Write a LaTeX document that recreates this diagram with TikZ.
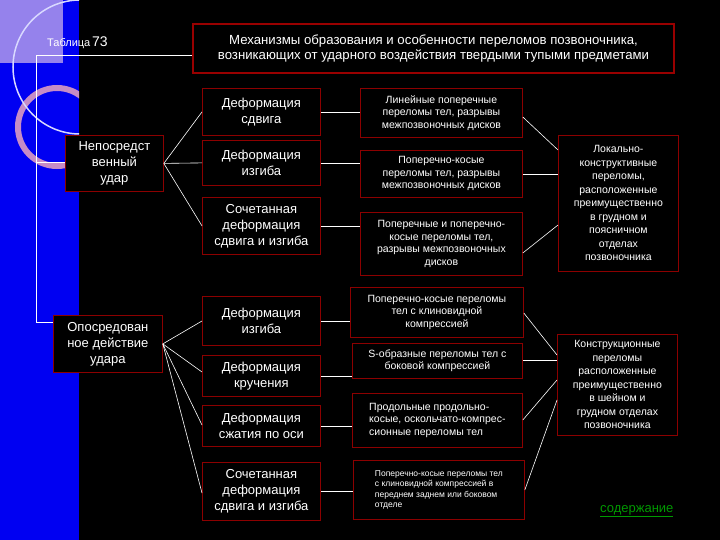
\documentclass[tikz,border=0pt]{standalone}
\usepackage{fontspec}
\setmainfont{Liberation Sans}
\begin{document}
\begin{tikzpicture}[x=1pt,y=-1pt,
  bx/.style={draw=red!55!black,line width=0.8pt,fill=black,text=white,align=center,inner sep=1pt,anchor=north west},
  ln/.style={draw=white,line width=0.6pt}]
\useasboundingbox (0,0) rectangle (720,540);
\fill[black] (0,0) rectangle (720,540);
\fill[blue!95!black] (0,0) rectangle (79,540);
\fill[blue!40!white!85!violet] (0,0) rectangle (63,63);
\begin{scope}
\clip (0,0) rectangle (79,540);
\draw[violet!45!white, line width=6pt] (57,127) circle (39);
\draw[white!85!blue, line width=1.5pt] (80,67) circle (67);
\end{scope}
% title
\node[bx,minimum width=481,minimum height=49,font=\fontsize{13.2}{15.5}\selectfont,line width=2pt,draw=red!60!black] (t) at (192,23) {Механизмы образования  и особенности переломов позвоночника,\\возникающих от ударного воздействия твердыми тупыми предметами};
\node[text=white,font=\fontsize{11}{13}\selectfont,anchor=west,inner sep=0] (tab) at (47,43) {Таблица\,{\fontsize{14}{14}\selectfont 73}};
% left
\tikzset{m/.style={bx,minimum width=118,font=\fontsize{13}{16}\selectfont}}
\node[bx,minimum width=98,minimum height=56,font=\fontsize{13}{16}\selectfont] (a) at (65,135) {Непосредст\\венный\\удар};
\node[bx,minimum width=109,minimum height=57,font=\fontsize{13}{16}\selectfont] (b) at (53,315) {Опосредован\\ное действие\\удара};
\coordinate (c1) at (36,55); \coordinate (c2) at (36,162); \coordinate (c3) at (36,322);
\draw[ln] (t.west |- c1) -- (c1) -- (c3) -- (b.west |- c3);
\draw[ln] (c2) -- (a.west |- c2);
% middle
\node[m,minimum height=47] (m1) at (202,88) {Деформация\\сдвига};
\node[m,minimum height=45] (m2) at (202,140) {Деформация\\изгиба};
\node[m,minimum height=57] (m3) at (202,197) {Сочетанная\\деформация\\сдвига и изгиба};
\node[m,minimum height=49] (m4) at (202,296) {Деформация\\изгиба};
\node[m,minimum height=41] (m5) at (202,355) {Деформация\\кручения};
\node[m,minimum height=41] (m6) at (202,405) {Деформация\\сжатия по оси};
\node[m,minimum height=58] (m7) at (202,462) {Сочетанная\\деформация\\сдвига и изгиба};
% third
\tikzset{r/.style={bx,minimum width=162,font=\fontsize{10.5}{12.5}\selectfont}}
\node[r,minimum height=49] (r1) at (360,88) {Линейные поперечные\\переломы тел, разрывы\\межпозвоночных дисков};
\node[r,minimum height=47] (r2) at (360,150) {Поперечно-косые\\переломы тел, разрывы\\межпозвоночных дисков};
\node[r,minimum height=63] (r3) at (360,212) {Поперечные и поперечно-\\косые переломы тел,\\разрывы межпозвоночных\\дисков};
\node[r,minimum width=173,minimum height=50] (r4) at (350,287) {Поперечно-косые переломы\\тел с клиновидной\\компрессией};
\node[r,minimum width=170,minimum height=35] (r5) at (352,343) {S-образные переломы тел с\\боковой компрессией};
\node[r,minimum width=170,minimum height=54,align=left] (r6) at (352,393) {Продольные продольно-\\косые, оскольчато-компрес-\\сионные переломы тел};
\node[r,minimum width=171,minimum height=59,align=left,font=\fontsize{8.5}{10.5}\selectfont] (r7) at (353,460) {Поперечно-косые переломы тел\\с клиновидной компрессией в\\переднем заднем или боковом\\отделе};
% right
\node[bx,minimum width=120,minimum height=136,font=\fontsize{10.5}{13.5}\selectfont] (q1) at (558,135) {Локально-\\конструктивные\\переломы,\\расположенные\\преимущественно\\в грудном и\\поясничном\\отделах\\позвоночника};
\node[bx,minimum width=120,minimum height=101,font=\fontsize{10.5}{13.5}\selectfont] (q2) at (557,334) {Конструкционные\\переломы\\расположенные\\преимущественно\\в шейном и\\грудном отделах\\позвоночника};
% connectors
\draw[ln] (a.east) -- (m1.west); \draw[ln] (a.east) -- (m2.west); \draw[ln] (a.east) -- (m3.west);
\draw[ln] (b.east) -- (m4.west |- 0,321);
\draw[ln] (b.east) -- (m5.west |- 0,372);
\draw[ln] (b.east) -- (m6.west |- 0,425);
\draw[ln] (b.east) -- (m7.west |- 0,493);
\foreach \i in {1,...,7} \draw[ln] (m\i.east) -- (m\i.east -| r\i.west);
\draw[ln] (r1.east |- 0,117) -- (q1.west |- 0,150);
\draw[ln] (r2.east) -- (r2.east -| q1.west);
\draw[ln] (r3.east |- 0,253) -- (q1.west |- 0,225);
\draw[ln] (r4.east |- 0,313) -- (q2.west |- 0,355);
\draw[ln] (r5.east |- 0,360) -- (q2.west |- 0,360);
\draw[ln] (r6.east |- 0,420) -- (q2.west |- 0,380);
\draw[ln] (r7.east |- 0,490) -- (q2.west |- 0,400);
\node[text=green!60!black,font=\fontsize{13}{15}\selectfont,anchor=west,inner sep=0] (lk) at (600,511) {\underline{содержание}};
\end{tikzpicture}
\end{document}
